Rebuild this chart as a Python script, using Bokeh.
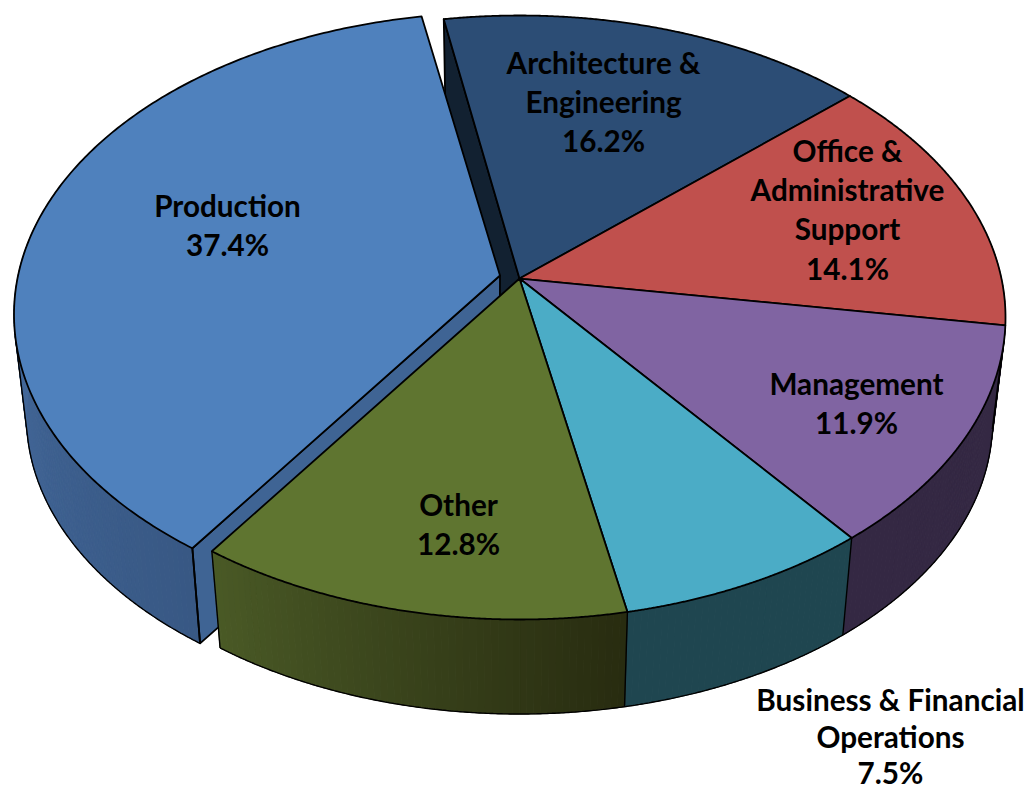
import numpy as np
from bokeh.plotting import figure
from bokeh.models import Range1d
from bokeh.core.properties import value
from bokeh.embed import file_html
from bokeh.resources import INLINE

# ---------- data (clockwise from the top) ----------
categories = ["Architecture &\nEngineering", "Office &\nAdministrative\nSupport", "Management",
              "Business & Financial\nOperations", "Other", "Production"]
shares = [16.2, 14.1, 11.9, 7.5, 12.8, 37.4]

# ---------- style / layout ----------
top_colors = ["#2C4D75", "#C0504D", "#8064A2", "#4BACC6", "#5F7530", "#4F81BD"]
wall_from = [(18, 33, 49), (110, 45, 43), (52, 40, 67), (31, 70, 80), (40, 44, 16), (56, 88, 132)]
wall_to = [(18, 33, 49), (110, 45, 43), (52, 40, 67), (31, 70, 80), (74, 90, 38), (74, 114, 168)]
label_xy = [(603, 62), (847, 150), (856, 383), (890, 699), (458, 504), (227, 205)]
LINE_H = 39.2
LINE_H_LOW = 36.6
START = -10.2
CX, CY, A, B, K = 519.0, 317.0, 486.0, 302.0, 0.129
CY2, A2, B2 = 421.0, 473.0, 292.5
EXPLODE_TOP = (-19.5, -3.0)
EXPLODE_BOT = (-20.0, -4.5)


def proj(theta):
    t = np.radians(theta)
    U, V = np.sin(t), np.cos(t)
    den = 1 + K * V
    return U * np.sqrt(1 - K * K) / den, (V + K) / den


def top(theta, off=(0, 0)):
    u, v = proj(theta)
    return CX + A * u + off[0], CY - B * v + off[1]


def bot(theta, off=(0, 0)):
    u, v = proj(theta)
    return CX + A2 * u + off[0], CY2 - B2 * v + off[1]


def hull_outline(off_t, off_b, lo, hi):
    th = np.arange(START, START + 360, 0.25)
    tx, ty = top(th, off_t)
    bx, by = bot(th, off_b)
    pts = [(tx[i], ty[i], th[i], 0) for i in range(len(th))] + [(bx[i], by[i], th[i], 1) for i in range(len(th))]
    pts.sort(key=lambda p: (p[0], p[1]))

    def half(seq):
        out = []
        for p in seq:
            while len(out) > 1 and ((out[-1][0] - out[-2][0]) * (p[1] - out[-2][1])
                                    - (out[-1][1] - out[-2][1]) * (p[0] - out[-2][0])) <= 0:
                out.pop()
            out.append(p)
        return out
    hull = half(pts)[:-1] + half(pts[::-1])[:-1]
    bots = sorted([p for p in hull if p[3] == 1], key=lambda p: p[2])
    tops = [p for p in hull if p[3] == 0]
    first, last = bots[0][2], bots[-1][2]
    before = max((p for p in tops if p[2] < first), key=lambda p: p[2], default=None)
    after = min((p for p in tops if p[2] > last), key=lambda p: p[2], default=None)
    seq = ([before] if before else []) + bots + ([after] if after else [])
    seq = [p for p in seq if lo <= p[2] <= hi]
    return [p[0] for p in seq], [p[1] for p in seq]


p = figure(width=1029, height=791, x_range=Range1d(0, 1029), y_range=Range1d(791, 0),
           output_backend="svg", toolbar_location=None, min_border=0)
p.axis.visible = False
p.grid.visible = False
p.outline_line_color = None
p.background_fill_color = "white"

edges = START + np.cumsum([0] + shares) * 3.6
OUT = 1.8


def face(xs, ys, color, lw=OUT):
    p.patch(list(xs), list(ys), fill_color=color, line_color="black", line_width=lw, line_join="round")


def wall(i, off_t, off_b, lo, hi):
    xs, ys, cs = [], [], []
    a, b = max(edges[i], lo), min(edges[i + 1], hi)
    if a >= b:
        return
    grid = np.arange(a, b, 0.75)
    grid = np.append(grid, b)
    c0, c1 = np.array(wall_from[i]), np.array(wall_to[i])
    for t0, t1 in zip(grid[:-1], grid[1:]):
        x0, y0 = top(t0, off_t)
        x1, y1 = top(t1, off_t)
        x2, y2 = bot(t1, off_b)
        x3, y3 = bot(t0, off_b)
        f = (t0 - a) / max(b - a, 1e-6)
        c = c0 + (c1 - c0) * f
        xs.append([x0, x1, x2, x3])
        ys.append([y0, y1, y2, y3])
        cs.append("#%02x%02x%02x" % tuple(int(round(v)) for v in c))
    p.patches(xs, ys, fill_color=cs, line_color=cs, line_width=1)


def top_apex(off=(0, 0)):
    return CX + off[0], CY - B * K + off[1]


def bot_apex(off=(0, 0)):
    return CX + off[0], CY2 - B2 * K + off[1]


def top_face(i, off=(0, 0)):
    th = np.linspace(edges[i], edges[i + 1], 240)
    x, y = top(th, off)
    ax, ay = top_apex(off)
    face(np.r_[ax, x], np.r_[ay, y], top_colors[i])


# cut face of the slice next to the gap (dark navy)
ax, ay = top_apex()
bx, by = bot_apex()
x0, y0 = top(edges[0])
x1, y1 = bot(edges[0])
face([ax, x0, x1, bx], [ay, y0, y1, by], "#122131")

# exploded slice
iP = 5
wall(iP, EXPLODE_TOP, EXPLODE_BOT, edges[iP], 300)
ox, oy = hull_outline(EXPLODE_TOP, EXPLODE_BOT, edges[iP], 300)
p.line(ox, oy, line_color="black", line_width=1.4)
ax, ay = top_apex(EXPLODE_TOP)
bx, by = bot_apex(EXPLODE_BOT)
x0, y0 = top(edges[iP], EXPLODE_TOP)
x1, y1 = bot(edges[iP], EXPLODE_BOT)
face([ax, x0, x1, bx], [ay, y0, y1, by], "#3F6494")
p.line([x0, x1], [y0, y1], line_color="black", line_width=OUT)
top_face(iP, EXPLODE_TOP)

# main body
for i in range(5):
    wall(i, (0, 0), (0, 0), 80, edges[5])
ox, oy = hull_outline((0, 0), (0, 0), 80, edges[5])
p.line(ox, oy, line_color="black", line_width=1.4)
for i in range(2, 6):
    x0, y0 = top(edges[i])
    x1, y1 = bot(edges[i])
    p.line([x0, x1], [y0, y1], line_color="black", line_width=1.4)
for i in range(5):
    top_face(i)

# labels
for name, share, (lx, ly) in zip(categories, shares, label_xy):
    lines = name.split("\n") + [f"{share:.1f}%"]
    lh = LINE_H_LOW if ly > 650 else LINE_H
    p.text(x=[lx] * len(lines), y=[ly + j * lh for j in range(len(lines))], text=lines,
           text_align="center", text_baseline="middle", text_color="black",
           text_font=value("Lato"), text_font_style="bold", text_font_size="29.7px")

open("out.html", "w").write(file_html(p, INLINE))
